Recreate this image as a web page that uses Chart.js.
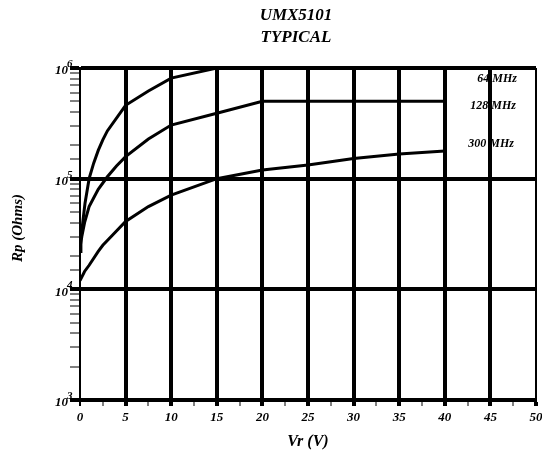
<!DOCTYPE html>
<html>
<head>
<meta charset="utf-8">
<script src="https://cdn.jsdelivr.net/npm/chart.js@4/dist/chart.umd.min.js"></script>
<style>
    body { margin: 0; background: #fff; }
    #wrap { width: 542px; height: 455px; position: relative; }
</style>
</head>
<body>
<div id="wrap"><canvas id="rpChart"></canvas></div>
<script>
// values
var vr64 = [0, 0.1, 0.3, 0.55, 1, 1.5, 2, 2.5, 3, 5, 7.5, 10, 15];
var rp64 = [22000, 28000, 40000, 60000, 100000, 138000, 180000, 224000, 270000, 460000, 620000, 810000, 1000000];

var vr128 = [0, 0.2, 0.5, 1, 2, 3, 4, 5, 7.5, 10, 15, 20, 40];
var rp128 = [24000, 30000, 40000, 56000, 80000, 104000, 130000, 158000, 228000, 305000, 390000, 500000, 500000];

var vr300 = [0, 0.5, 1, 2, 2.5, 3.5, 5, 7.5, 10, 15, 20, 25, 30, 35, 40];
var rp300 = [12000, 14500, 16500, 22000, 25000, 30500, 41000, 56000, 71000, 100000, 120000, 133000, 152000, 167000, 178000];

var seriesNames = ["64 MHz", "128 MHz", "300 MHz"];
var xTickLabels = [0, 5, 10, 15, 20, 25, 30, 35, 40, 45, 50];
var yExponents = [3, 4, 5, 6];

var FONT = '"Liberation Serif", "Times New Roman", serif';

function toPoints(xs, ys) {
    return xs.map(function (v, i) { return { x: v, y: ys[i] }; });
}

function isDecade(v) {
    var e = Math.log10(v);
    return Math.abs(e - Math.round(e)) < 1e-9;
}

function isMajorX(v) {
    return Math.abs(v / 5 - Math.round(v / 5)) < 1e-9;
}

// text under the grid: series labels
var labelsBelow = {
    id: "labelsBelow",
    beforeDraw: function (chart) {
        var ctx = chart.ctx;
        ctx.save();
        ctx.fillStyle = "#000";
        ctx.font = "bold italic 12px " + FONT;
        ctx.textAlign = "right";
        ctx.textBaseline = "middle";
        ctx.fillText(seriesNames[0], 517, 79);
        ctx.fillText(seriesNames[1], 516, 106);
        ctx.fillText(seriesNames[2], 514, 144);
        ctx.restore();
    }
};

// titles and tick labels
var textLayer = {
    id: "textLayer",
    afterDraw: function (chart) {
        var ctx = chart.ctx;
        var xs = chart.scales.x, ys = chart.scales.y;
        ctx.save();
        ctx.fillStyle = "#000";
        ctx.textBaseline = "middle";

        ctx.font = "bold italic 17px " + FONT;
        ctx.textAlign = "center";
        ctx.fillText("UMX5101", 296, 16);
        ctx.fillText("TYPICAL", 296, 38);

        ctx.font = "bold italic 16px " + FONT;
        ctx.fillText("Vr (V)", 308, 442);

        ctx.save();
        ctx.translate(18, 228);
        ctx.rotate(-Math.PI / 2);
        ctx.font = "bold italic 15px " + FONT;
        ctx.fillText("Rp (Ohms)", 0, 0);
        ctx.restore();

        ctx.font = "bold italic 13px " + FONT;
        xTickLabels.forEach(function (v) {
            ctx.fillText(String(v), xs.getPixelForValue(v), 418);
        });

        yExponents.forEach(function (e) {
            var py = ys.getPixelForValue(Math.pow(10, e));
            ctx.font = "bold italic 13px " + FONT;
            ctx.textAlign = "right";
            ctx.fillText("10", 68, py + 3);
            ctx.font = "bold italic 11px " + FONT;
            ctx.textAlign = "left";
            ctx.fillText(String(e), 67, py - 4);
        });
        ctx.restore();
    }
};

var lineStyle = {
    borderColor: "#000",
    borderWidth: 3,
    pointRadius: 0,
    fill: false,
    tension: 0
};

var ctx = document.getElementById("rpChart").getContext("2d");
var rpChart = new Chart(ctx, {
    type: "line",
    data: {
        datasets: [
            Object.assign({ label: seriesNames[0], data: toPoints(vr64, rp64) }, lineStyle),
            Object.assign({ label: seriesNames[1], data: toPoints(vr128, rp128) }, lineStyle),
            Object.assign({ label: seriesNames[2], data: toPoints(vr300, rp300) }, lineStyle)
        ]
    },
    options: {
        responsive: true,
        maintainAspectRatio: false,
        animation: false,
        layout: {
            padding: { left: 70, right: 6, top: 68, bottom: 49 }
        },
        plugins: {
            legend: { display: false },
            tooltip: { enabled: false }
        },
        scales: {
            x: {
                type: "linear",
                min: 0,
                max: 50,
                ticks: { display: false, stepSize: 2.5, autoSkip: false },
                border: { color: "#000", width: 4 },
                grid: {
                    color: "#000",
                    tickLength: 6,
                    lineWidth: function (c) {
                        var v = c.tick.value;
                        if (!isMajorX(v)) return 0;
                        return (v === 0 || v === 50) ? 2 : 4;
                    },
                    tickWidth: function (c) {
                        var v = c.tick.value;
                        if (!isMajorX(v)) return 1;
                        return v === 0 ? 2 : 4;
                    },
                    tickColor: "#000"
                }
            },
            y: {
                type: "logarithmic",
                min: 1000,
                max: 1000000,
                ticks: { display: false, autoSkip: false },
                border: { color: "#000", width: 2 },
                grid: {
                    color: "#000",
                    tickLength: 10,
                    lineWidth: function (c) {
                        return isDecade(c.tick.value) ? 4 : 0;
                    },
                    tickWidth: function (c) {
                        return isDecade(c.tick.value) ? 4 : 1;
                    },
                    tickColor: "#000"
                }
            }
        }
    },
    plugins: [labelsBelow, textLayer]
});
</script>
</body>
</html>
